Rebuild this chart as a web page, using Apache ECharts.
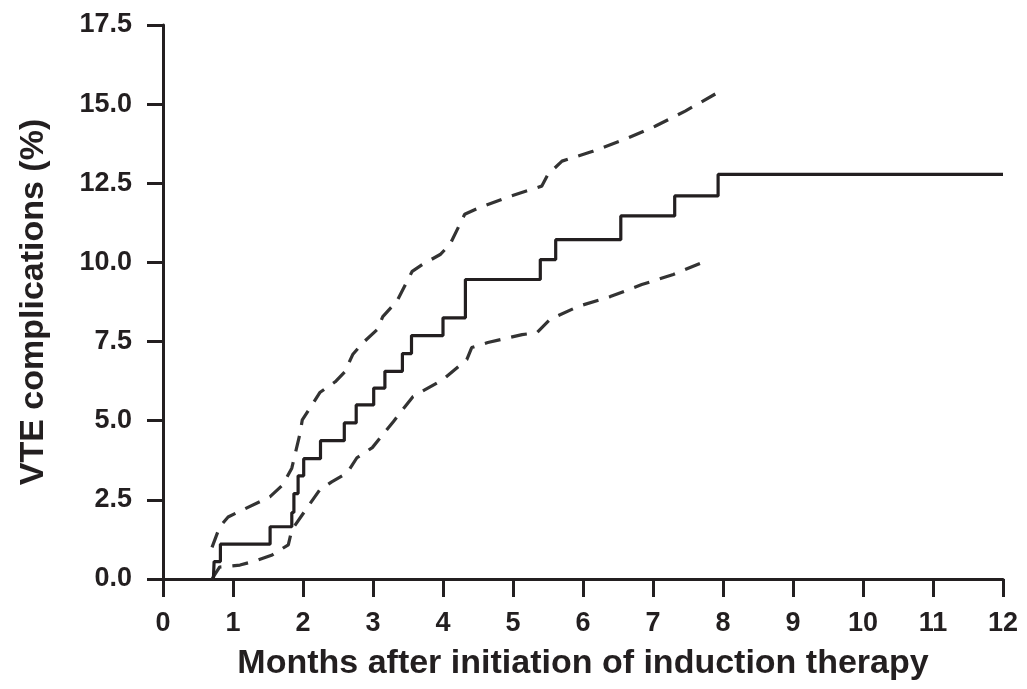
<!DOCTYPE html>
<html>
<head>
<meta charset="utf-8">
<script src="https://cdn.jsdelivr.net/npm/echarts@6/dist/echarts.min.js"></script>
<style>html,body{margin:0;padding:0;background:#fff}#c{width:1027px;height:689px}</style>
</head>
<body>
<div id="c"></div>
<script>
const xTitle = 'Months after initiation of induction therapy';
const yTitle = 'VTE complications (%)';
// Kaplan-Meier estimate (months, %), step
const kmMonths = [0.72, 0.73, 0.82, 1.53, 1.84, 1.87, 1.93, 2.01, 2.25, 2.59, 2.76, 3.01, 3.17, 3.42, 3.55, 4.0, 4.32, 5.39, 5.61, 6.54, 7.31, 7.93, 12];
const kmValues = [0, 0.55, 1.1, 1.65, 2.1, 2.7, 3.26, 3.8, 4.37, 4.93, 5.5, 6.03, 6.56, 7.12, 7.69, 8.25, 9.46, 10.09, 10.72, 11.47, 12.1, 12.78, 12.78];
// Upper confidence band
const upperMonths = [0.7, 0.81, 0.93, 1.53, 1.71, 1.84, 1.96, 1.99, 2.13, 2.24, 2.46, 2.6, 2.71, 2.86, 3.06, 3.14, 3.34, 3.56, 3.71, 3.96, 4.1, 4.31, 4.53, 4.96, 5.41, 5.5, 5.7, 6.14, 6.6, 7.03, 7.46, 7.89];
const upperValues = [1.0, 1.65, 1.96, 2.6, 2.97, 3.5, 4.62, 5.03, 5.5, 5.89, 6.23, 6.55, 7.09, 7.47, 7.88, 8.29, 8.77, 9.72, 9.94, 10.25, 10.57, 11.52, 11.74, 12.09, 12.41, 12.78, 13.2, 13.51, 13.89, 14.3, 14.78, 15.32];
// Lower confidence band
const lowerMonths = [0.7, 0.81, 1.1, 1.36, 1.56, 1.79, 1.84, 1.99, 2.24, 2.41, 2.63, 2.77, 2.99, 3.29, 3.57, 4.0, 4.34, 4.41, 4.64, 5.13, 5.34, 5.53, 5.93, 6.39, 6.84, 7.29, 7.74];
const lowerValues = [0, 0.38, 0.44, 0.6, 0.76, 1.08, 1.55, 2.03, 2.82, 3.07, 3.35, 3.83, 4.15, 4.97, 5.76, 6.3, 6.93, 7.31, 7.47, 7.72, 7.78, 8.2, 8.61, 8.92, 9.3, 9.62, 10.03];

const zip = (a, b) => a.map((v, i) => [v, b[i]]);
const ink = '#231f20';
const font = 'Liberation Sans, Arial, sans-serif';

const chart = echarts.init(document.getElementById('c'), null, {renderer: 'canvas'});
chart.setOption({
  animation: false,
  backgroundColor: '#fff',
  grid: {left: 163, right: 24, top: 25, bottom: 110, containLabel: false},
  xAxis: {
    type: 'value', min: 0, max: 12, interval: 1,
    name: xTitle, nameLocation: 'middle', nameGap: 68,
    nameTextStyle: {fontFamily: font, fontWeight: 'bold', fontSize: 34, color: ink},
    axisLine: {show: true, onZero: false, lineStyle: {color: ink, width: 3}},
    axisTick: {show: true, length: 18, lineStyle: {color: ink, width: 3}},
    axisLabel: {fontFamily: font, fontWeight: 'bold', fontSize: 27, color: ink, margin: 31},
    splitLine: {show: false}
  },
  yAxis: {
    type: 'value', min: 0, max: 17.5, interval: 2.5,
    name: yTitle, nameLocation: 'middle', nameGap: 112, nameRotate: 90,
    nameTextStyle: {fontFamily: font, fontWeight: 'bold', fontSize: 34, color: ink},
    axisLine: {show: true, onZero: false, lineStyle: {color: ink, width: 3}},
    axisTick: {show: true, length: 16, lineStyle: {color: ink, width: 3}},
    axisLabel: {fontFamily: font, fontWeight: 'bold', fontSize: 27, color: ink, margin: 31,
      formatter: v => v.toFixed(1)},
    splitLine: {show: false}
  },
  series: [
    {type: 'line', data: zip(kmMonths, kmValues), step: 'end', symbol: 'none',
     lineStyle: {color: ink, width: 3.2}, z: 3},
    {type: 'line', data: zip(upperMonths, upperValues), symbol: 'none',
     lineStyle: {color: '#333', width: 3.2, type: [16, 11]}, z: 2},
    {type: 'line', data: zip(lowerMonths, lowerValues), symbol: 'none',
     lineStyle: {color: '#333', width: 3.2, type: [16, 11]}, z: 2}
  ]
});
</script>
</body>
</html>
